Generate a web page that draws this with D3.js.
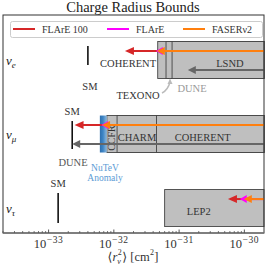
<!DOCTYPE html>
<html><head><meta charset="utf-8">
<script src="https://cdn.jsdelivr.net/npm/d3@7"></script>
<style>body{margin:0;background:#fff}svg{display:block}text{font-family:"Liberation Serif","DejaVu Serif",serif}</style>
</head><body><svg id="c" width="266" height="266"></svg>
<script>
// ---- data ----
const rows = ["e", "mu", "tau"];           // neutrino flavours
const rowIndex = [2, 1, 0];
const smValues = [4.0e-33, 2.3e-33, 1.4e-33];
// experimental excluded regions (left edge of grey box)
const boxEdges = {e: [4.7e-32, 6.3e-32, 7.8e-32], mu: [7.8e-33, 1.12e-32, 4.5e-32], tau: [6.0e-32]};
const boxLabels = {e: [["COHERENT", 1.65e-32], ["LSND", 6.0e-31]], mu: [["CHARM", 2.26e-32], ["COHERENT", 2.3e-31]], tau: [["LEP2", 2.0e-31]]};
const nutevBand = [6.1e-33, 7.8e-33];
const seriesNames = ["FLArE 100", "FLArE", "FASERν2"];
const seriesColors = ["#d62728", "#ff00ff", "#ff7f0e"];
const flare100 = [1.48e-32, 2.5e-33, 5.6e-31];
const flare = [4.4e-32, 6.4e-33, 8.5e-31];
const faser2 = [4.55e-32, 6.6e-33, 9.8e-31];
const duneProj = [1.36e-31, 2.3e-33, null];
const majorTicks = [1e-33, 1e-32, 1e-31, 1e-30];
const tickExp = ["−33", "−32", "−31", "−30"];

const svg = d3.select("#c");
const L = 3, R = 264, T = 15, B = 233;
const x = d3.scaleLog().domain([2e-34, 2e-30]).range([L, R]);
const y = d3.scaleLinear().domain([-0.31, 2.635]).range([B, T]);

// title
svg.append("text").attr("x", 133).attr("y", 12).attr("text-anchor", "middle").attr("font-size", 14.5).attr("fill", "#222").text("Charge Radius Bounds");

const g = svg.append("g");
const defs = svg.append("defs");
const grad = defs.append("linearGradient").attr("id", "nb");
grad.append("stop").attr("offset", "0%").attr("stop-color", "#2f6fae");
grad.append("stop").attr("offset", "45%").attr("stop-color", "#3d85c6");
grad.append("stop").attr("offset", "100%").attr("stop-color", "#8fb8dc");

function arrow(x0, x1, yy, color, w, hl, hw) {
  g.append("line").attr("x1", x0).attr("x2", x1 + hl - 1).attr("y1", yy).attr("y2", yy).attr("stroke", color).attr("stroke-width", w);
  g.append("path").attr("d", `M${x1},${yy}L${x1 + hl},${yy - hw}L${x1 + hl},${yy + hw}Z`).attr("fill", color);
}

rows.forEach((r, i) => {
  const cy = y(rowIndex[i]);
  boxEdges[r].forEach(v => {
    g.append("rect").attr("x", x(v)).attr("y", cy - 20.5).attr("width", R - x(v)).attr("height", 37)
      .attr("fill", "#bfbfbf").attr("stroke", "#444").attr("stroke-width", 0.9);
  });
  if (r === "mu") {
    g.append("rect").attr("x", x(nutevBand[0])).attr("y", cy - 20.5).attr("width", x(nutevBand[1]) - x(nutevBand[0])).attr("height", 37).attr("fill", "url(#nb)");
    g.append("text").attr("transform", `translate(${(x(boxEdges.mu[0]) + x(boxEdges.mu[1])) / 2 + 3.5},${cy + 2}) rotate(-90)`)
      .attr("text-anchor", "middle").attr("font-size", 10).attr("fill", "#333").text("CCFR");
  }
  boxLabels[r].forEach(([t, v]) => {
    g.append("text").attr("x", x(v)).attr("y", cy + 5).attr("text-anchor", "middle")
      .attr("font-size", 10.5).attr("fill", "#333").text(t);
  });
  const smTop = r === "e" ? -16 : (r === "mu" ? -15 : -17);
  const smBot = r === "e" ? 3 : 13;
  g.append("line").attr("x1", x(smValues[i])).attr("x2", x(smValues[i])).attr("y1", cy + smTop).attr("y2", cy + smBot).attr("stroke", "#111").attr("stroke-width", 1.6);
  g.append("text").attr("x", x(smValues[i]) + (r === "e" ? 2 : 0)).attr("y", r === "e" ? cy + 28 : cy + smTop - 6).attr("text-anchor", "middle").attr("font-size", 10.5).attr("fill", "#333").text("SM");
  if (duneProj[i]) arrow(R, x(duneProj[i]), cy + 8, "#666", 2, 8, 4);
  arrow(R, x(flare100[i]), cy - 11, seriesColors[0], 2, 9, 4);
  arrow(R, x(flare[i]), cy - 11, seriesColors[1], 2, 7, 4);
  arrow(R, x(faser2[i]), cy - 11, seriesColors[2], 2, 8, 4);
});

// annotations
const ce = y(2), cm = y(1);
g.append("text").attr("x", 192).attr("y", ce + 30).attr("text-anchor", "middle").attr("font-size", 10.5).attr("fill", "#999").text("DUNE");
g.append("text").attr("x", 138).attr("y", ce + 37).attr("text-anchor", "middle").attr("font-size", 10.5).attr("fill", "#333").text("TEXONO");
g.append("path").attr("d", `M162,${ce + 31} Q168,${ce + 28} 170,${ce + 20}`).attr("fill", "none").attr("stroke", "#bbb").attr("stroke-width", 1.5);
g.append("path").attr("d", `M170,${ce + 16.5}L167.5,${ce + 22}L172.5,${ce + 22}Z`).attr("fill", "#bbb");
g.append("text").attr("x", 73).attr("y", cm + 30).attr("text-anchor", "middle").attr("font-size", 10.5).attr("fill", "#555").text("DUNE");
g.append("text").attr("x", 105).attr("y", cm + 35).attr("text-anchor", "middle").attr("font-size", 9.5).attr("fill", "#5b9bd5").text("NuTeV");
g.append("text").attr("x", 105).attr("y", cm + 45).attr("text-anchor", "middle").attr("font-size", 9.5).attr("fill", "#5b9bd5").text("Anomaly");

// frame
svg.append("rect").attr("x", L).attr("y", T).attr("width", R - L).attr("height", B - T).attr("fill", "none").attr("stroke", "#333").attr("stroke-width", 1);
svg.append("line").attr("x1", L).attr("x2", R).attr("y1", B).attr("y2", B).attr("stroke", "#777").attr("stroke-width", 1.6);

// ticks
const minor = [];
for (let e = -34; e <= -31; e++) for (let m = 2; m <= 9; m++) { const v = m * Math.pow(10, e); if (v >= 2e-34 && v <= 2e-30) minor.push(v); }
svg.selectAll(".mn").data(minor).join("line").attr("x1", d => x(d)).attr("x2", d => x(d)).attr("y1", B).attr("y2", B - 2).attr("stroke", "#555").attr("stroke-width", 0.8);
svg.selectAll(".mj").data(majorTicks).join("line").attr("x1", d => x(d)).attr("x2", d => x(d)).attr("y1", B).attr("y2", B - 3.5).attr("stroke", "#555").attr("stroke-width", 1);
majorTicks.forEach((d, i) => {
  const tg = svg.append("g");
  const a = tg.append("text").attr("x", 0).attr("y", 248).attr("font-size", 12.5).attr("fill", "#333").text("10");
  const w1 = a.node().getComputedTextLength();
  const b = tg.append("text").attr("x", w1 + 0.5).attr("y", 242.5).attr("font-size", 9.5).attr("fill", "#333").attr("letter-spacing", 0.6).text(tickExp[i]);
  const w2 = b.node().getComputedTextLength();
  tg.attr("transform", `translate(${x(d) - (w1 + 0.5 + w2) / 2},0)`);
});

// x label built piecewise
const xg = svg.append("g");
let cx = 0;
function piece(t, opts) {
  const el = xg.append("text").attr("x", cx + (opts.dx || 0)).attr("y", opts.y).attr("font-size", opts.fs).attr("fill", "#333").text(t);
  if (opts.it) el.attr("font-style", "italic");
  const w = el.node().getComputedTextLength();
  return w + (opts.dx || 0);
}
cx += piece("⟨", {y: 261, fs: 12.5});
cx += piece("r", {y: 261, fs: 12.5, it: true});
const wsup = piece("2", {y: 254.5, fs: 8, dx: 0.5});
const wsub = piece("ν", {y: 264, fs: 8, it: true, dx: 0});
cx += Math.max(wsup, wsub) + 0.5;
cx += piece("⟩ [cm", {y: 261, fs: 12.5});
cx += piece("2", {y: 255, fs: 8, dx: 0.3}) + 0.3;
cx += piece("]", {y: 261, fs: 12.5});
xg.attr("transform", `translate(${133 - cx / 2},0)`);

// y labels
const subs = ["e", "μ", "τ"];
rows.forEach((r, i) => {
  const t = svg.append("text").attr("x", 6).attr("y", y(rowIndex[i]) + 3).attr("font-size", 13).attr("font-style", "italic").attr("fill", "#222");
  t.append("tspan").text("ν");
  t.append("tspan").attr("dy", 3).attr("font-size", 9).text(subs[i]);
});

// legend
svg.append("rect").attr("x", 10.5).attr("y", 21.5).attr("width", 252).attr("height", 16).attr("rx", 2).attr("fill", "#fff").attr("stroke", "#ccc").attr("stroke-width", 1);
const lx = [13, 107, 183];
seriesNames.forEach((n, i) => {
  svg.append("line").attr("x1", lx[i]).attr("x2", lx[i] + 22).attr("y1", 29).attr("y2", 29).attr("stroke", seriesColors[i]).attr("stroke-width", 2);
  svg.append("text").attr("x", lx[i] + 29).attr("y", 32.5).attr("font-size", 10).attr("fill", "#333").text(n);
});
</script></body></html>
